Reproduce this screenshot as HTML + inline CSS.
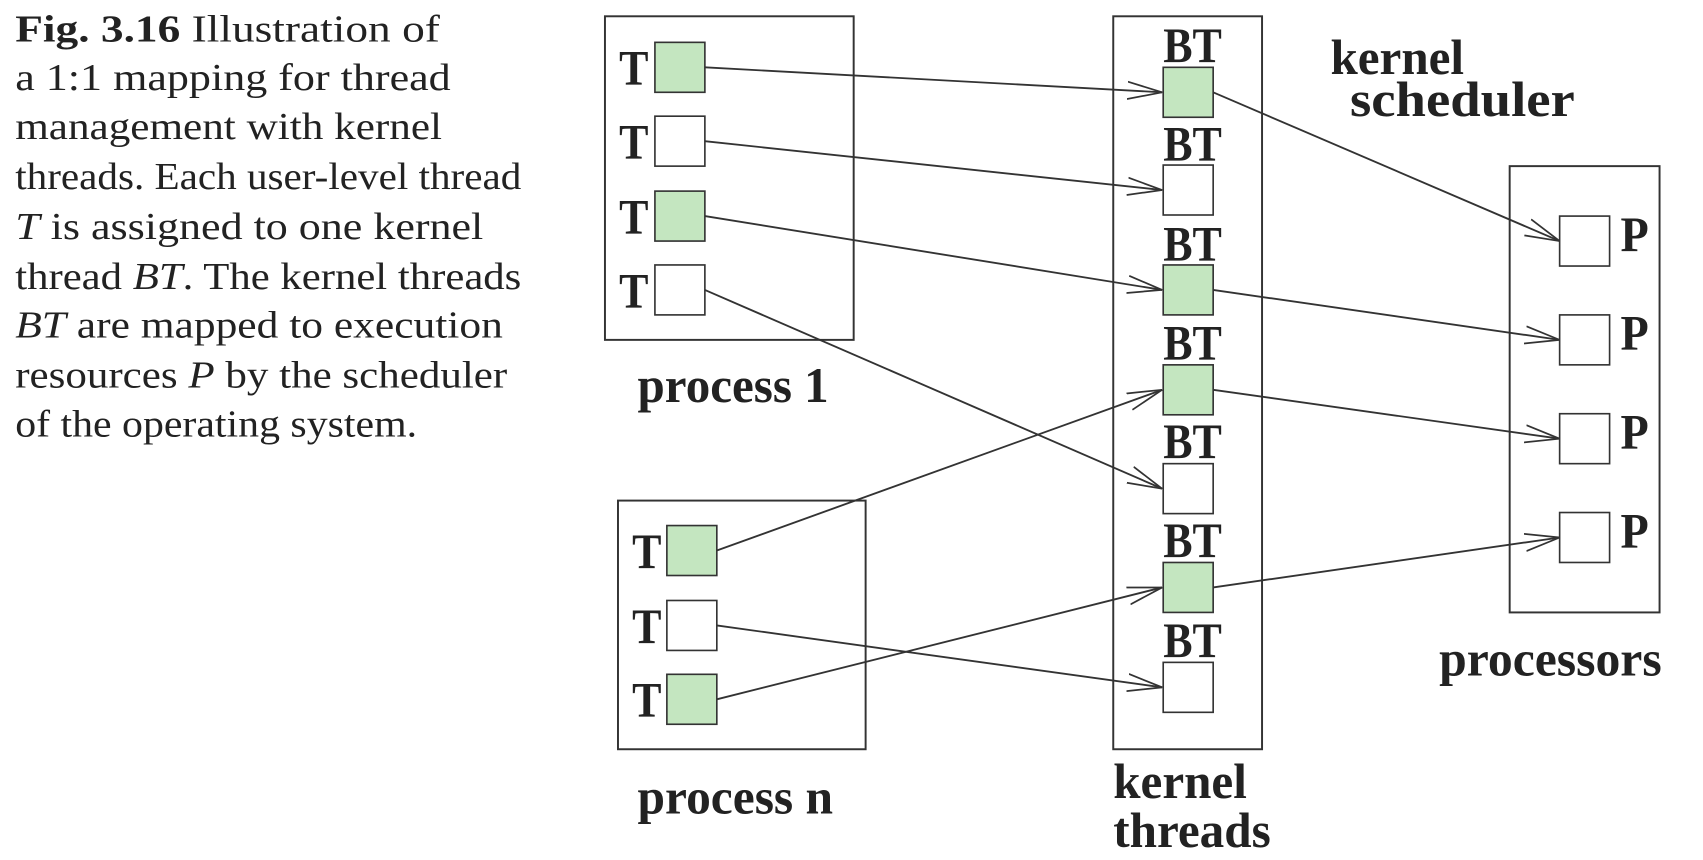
<!DOCTYPE html>
<html><head><style>body{margin:0;background:#fff}svg{display:block}</style></head><body>
<svg width="1703" height="860" viewBox="0 0 1568 792" preserveAspectRatio="none" xmlns="http://www.w3.org/2000/svg">
<defs><marker id="a" markerWidth="34" markerHeight="20" refX="32" refY="10" orient="auto" markerUnits="userSpaceOnUse"><path d="M0,2 L32,10 L0,18" fill="none" stroke="#333" stroke-width="1.6"/></marker></defs>
<g font-family="Liberation Serif, serif" font-size="35" fill="#222">
<text x="14" y="38" textLength="391" lengthAdjust="spacingAndGlyphs"><tspan font-weight="bold">Fig. 3.16</tspan>  Illustration of</text>
<text x="14" y="83" textLength="401" lengthAdjust="spacingAndGlyphs">a 1:1 mapping for thread</text>
<text x="14" y="128" textLength="393" lengthAdjust="spacingAndGlyphs">management with kernel</text>
<text x="14" y="174" textLength="466" lengthAdjust="spacingAndGlyphs">threads. Each user-level thread</text>
<text x="14" y="220" textLength="431" lengthAdjust="spacingAndGlyphs"><tspan font-style="italic">T</tspan> is assigned to one kernel</text>
<text x="14" y="266" textLength="466" lengthAdjust="spacingAndGlyphs">thread <tspan font-style="italic">BT</tspan>. The kernel threads</text>
<text x="14" y="311" textLength="449" lengthAdjust="spacingAndGlyphs"><tspan font-style="italic">BT</tspan> are mapped to execution</text>
<text x="14" y="357" textLength="453" lengthAdjust="spacingAndGlyphs">resources <tspan font-style="italic">P</tspan> by the scheduler</text>
<text x="14" y="402" textLength="370" lengthAdjust="spacingAndGlyphs">of the operating system.</text>
</g>
<g fill="none" stroke="#333" stroke-width="1.8">
<rect x="557" y="15" width="229" height="298"/>
<rect x="569" y="461" width="228" height="229"/>
<rect x="1025" y="15" width="137" height="675"/>
<rect x="1390" y="153" width="138" height="411"/>
</g>
<g stroke="#333" stroke-width="1.5">
<rect x="603" y="39" width="46" height="46" fill="#c4e6c0"/>
<rect x="603" y="107" width="46" height="46" fill="#fff"/>
<rect x="603" y="176" width="46" height="46" fill="#c4e6c0"/>
<rect x="603" y="244" width="46" height="46" fill="#fff"/>
<rect x="614" y="484" width="46" height="46" fill="#c4e6c0"/>
<rect x="614" y="553" width="46" height="46" fill="#fff"/>
<rect x="614" y="621" width="46" height="46" fill="#c4e6c0"/>
<rect x="1071" y="62" width="46" height="46" fill="#c4e6c0"/>
<rect x="1071" y="152" width="46" height="46" fill="#fff"/>
<rect x="1071" y="244" width="46" height="46" fill="#c4e6c0"/>
<rect x="1071" y="336" width="46" height="46" fill="#c4e6c0"/>
<rect x="1071" y="427" width="46" height="46" fill="#fff"/>
<rect x="1071" y="518" width="46" height="46" fill="#c4e6c0"/>
<rect x="1071" y="610" width="46" height="46" fill="#fff"/>
<rect x="1436" y="199" width="46" height="46" fill="#fff"/>
<rect x="1436" y="290" width="46" height="46" fill="#fff"/>
<rect x="1436" y="381" width="46" height="46" fill="#fff"/>
<rect x="1436" y="472" width="46" height="46" fill="#fff"/>
</g>
<g stroke="#333" stroke-width="1.7" marker-end="url(#a)">
<line x1="649" y1="62" x2="1070" y2="85"/>
<line x1="649" y1="130" x2="1070" y2="175"/>
<line x1="649" y1="199" x2="1070" y2="267"/>
<line x1="649" y1="267" x2="1070" y2="450"/>
<line x1="660" y1="507" x2="1070" y2="359"/>
<line x1="660" y1="576" x2="1070" y2="633"/>
<line x1="660" y1="644" x2="1070" y2="541"/>
<line x1="1117" y1="85" x2="1436" y2="222"/>
<line x1="1117" y1="267" x2="1436" y2="313"/>
<line x1="1117" y1="359" x2="1436" y2="404"/>
<line x1="1117" y1="541" x2="1436" y2="495"/>
</g>
<g font-family="Liberation Serif, serif" font-size="46" font-weight="bold" fill="#222">
<text x="570" y="78" textLength="27" lengthAdjust="spacingAndGlyphs">T</text><text x="570" y="146" textLength="27" lengthAdjust="spacingAndGlyphs">T</text><text x="570" y="215" textLength="27" lengthAdjust="spacingAndGlyphs">T</text><text x="570" y="283" textLength="27" lengthAdjust="spacingAndGlyphs">T</text>
<text x="582" y="523" textLength="27" lengthAdjust="spacingAndGlyphs">T</text><text x="582" y="592" textLength="27" lengthAdjust="spacingAndGlyphs">T</text><text x="582" y="660" textLength="27" lengthAdjust="spacingAndGlyphs">T</text>
<text x="1071" y="57" textLength="54" lengthAdjust="spacingAndGlyphs">BT</text><text x="1071" y="148" textLength="54" lengthAdjust="spacingAndGlyphs">BT</text><text x="1071" y="240" textLength="54" lengthAdjust="spacingAndGlyphs">BT</text><text x="1071" y="331" textLength="54" lengthAdjust="spacingAndGlyphs">BT</text><text x="1071" y="422" textLength="54" lengthAdjust="spacingAndGlyphs">BT</text><text x="1071" y="513" textLength="54" lengthAdjust="spacingAndGlyphs">BT</text><text x="1071" y="605" textLength="54" lengthAdjust="spacingAndGlyphs">BT</text>
<text x="1492" y="231" textLength="26" lengthAdjust="spacingAndGlyphs">P</text><text x="1492" y="322" textLength="26" lengthAdjust="spacingAndGlyphs">P</text><text x="1492" y="413" textLength="26" lengthAdjust="spacingAndGlyphs">P</text><text x="1492" y="504" textLength="26" lengthAdjust="spacingAndGlyphs">P</text>
<text x="587" y="370" textLength="176" lengthAdjust="spacingAndGlyphs">process 1</text>
<text x="587" y="749" textLength="180" lengthAdjust="spacingAndGlyphs">process n</text>
<text x="1025" y="735" textLength="123" lengthAdjust="spacingAndGlyphs">kernel</text>
<text x="1025" y="780" textLength="145" lengthAdjust="spacingAndGlyphs">threads</text>
<text x="1225" y="68" textLength="123" lengthAdjust="spacingAndGlyphs">kernel</text>
<text x="1243" y="107" textLength="207" lengthAdjust="spacingAndGlyphs">scheduler</text>
<text x="1325" y="622" textLength="205" lengthAdjust="spacingAndGlyphs">processors</text>
</g>
</svg>
</body></html>
